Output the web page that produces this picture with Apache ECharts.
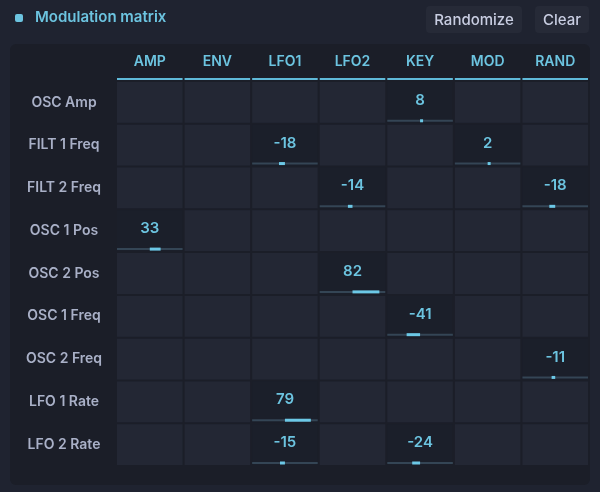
<!DOCTYPE html>
<html>
<head>
<meta charset="utf-8">
<script src="https://cdn.jsdelivr.net/npm/echarts@6/dist/echarts.min.js"></script>
<style>
  html, body { margin: 0; padding: 0; background: #1f2330; }
  #chart { width: 600px; height: 492px; }
</style>
</head>
<body>
<div id="chart"></div>
<script>
var sources = ['AMP', 'ENV', 'LFO1', 'LFO2', 'KEY', 'MOD', 'RAND'];
var targets = ['OSC Amp', 'FILT 1 Freq', 'FILT 2 Freq', 'OSC 1 Pos', 'OSC 2 Pos',
               'OSC 1 Freq', 'OSC 2 Freq', 'LFO 1 Rate', 'LFO 2 Rate'];
// [source index, target index, amount]
var routes = [
    [4, 0, 8],
    [2, 1, -18], [5, 1, 2],
    [3, 2, -14], [6, 2, -18],
    [0, 3, 33],
    [3, 4, 82],
    [4, 5, -41],
    [6, 6, -11],
    [2, 7, 79],
    [2, 8, -15], [4, 8, -24]
];

document.addEventListener('DOMContentLoaded', function () {
    var chart = echarts.init(document.getElementById('chart'));

    // full grid of cells, filled with route amounts where present
    var cells = [];
    targets.forEach(function (t, yi) {
        sources.forEach(function (s, xi) {
            var v = null;
            routes.forEach(function (r) { if (r[0] === xi && r[1] === yi) v = r[2]; });
            cells.push([xi, yi, v]);
        });
    });
    var headers = sources.map(function (s, i) { return [i, 0]; });

    var option = {
        backgroundColor: '#1f2330',
        textStyle: { fontFamily: 'Inter' },
        graphic: [
            { type: 'rect', shape: { x: 10, y: 44, width: 580, height: 441, r: 6 }, style: { fill: '#1b1e28' }, z: -10 },
            { type: 'rect', shape: { x: 15, y: 14, width: 8, height: 8, r: 2 }, style: { fill: '#6cc4e0' } },
            { type: 'text', left: 35, top: 10, style: { text: 'Modulation matrix', fill: '#6cc4e0', font: '600 15px Inter' } },
            { type: 'rect', shape: { x: 426, y: 6, width: 96, height: 27, r: 4 }, style: { fill: '#262a37' } },
            { type: 'text', x: 474, y: 20, style: { text: 'Randomize', fill: '#c9cee2', font: '500 15px Inter', align: 'center', verticalAlign: 'middle' } },
            { type: 'rect', shape: { x: 535, y: 6, width: 54, height: 27, r: 4 }, style: { fill: '#262a37' } },
            { type: 'text', x: 562, y: 20, style: { text: 'Clear', fill: '#c9cee2', font: '500 15px Inter', align: 'center', verticalAlign: 'middle' } }
        ],
        grid: { left: 116, right: 11, top: 81, bottom: 26 },
        xAxis: {
            type: 'category', data: sources, position: 'top',
            axisLine: { show: false }, axisTick: { show: false }, splitLine: { show: false },
            axisLabel: { color: '#6cc4e0', fontWeight: 600, fontSize: 14, margin: 12 }
        },
        yAxis: {
            type: 'category', data: targets, inverse: true,
            axisLine: { show: false }, axisTick: { show: false }, splitLine: { show: false },
            axisLabel: { color: '#a9b0c7', fontWeight: 600, fontSize: 14, margin: 52, align: 'center' }
        },
        series: [
            {
                type: 'custom',
                data: cells,
                renderItem: function (params, api) {
                    var c = api.coord([api.value(0), api.value(1)]);
                    var sz = api.size([1, 1]);
                    var w = sz[0], h = sz[1];
                    var v = api.value(2);
                    var on = !isNaN(v) && v !== null;
                    var x0 = c[0] - w / 2, y0 = c[1] - h / 2;
                    var kids = [{
                        type: 'rect',
                        shape: { x: x0 + 1, y: y0 + 1, width: w - 2, height: h - 2 },
                        style: { fill: on ? '#1b1f2a' : '#232734' }
                    }];
                    if (on) {
                        var half = (w - 2) / 2;
                        var len = v / 100 * half;
                        if (Math.abs(len) < 3) len = len < 0 ? -3 : 3;
                        var by = y0 + h - 4;
                        kids.push({
                            type: 'rect',
                            shape: { x: x0 + 1, y: by, width: w - 2, height: 2 },
                            style: { fill: '#344555' }
                        });
                        kids.push({
                            type: 'rect',
                            shape: { x: Math.min(c[0], c[0] + len), y: by - 0.5, width: Math.abs(len), height: 3 },
                            style: { fill: '#6cc8e6' }
                        });
                        kids.push({
                            type: 'text',
                            x: c[0], y: c[1] - 2,
                            style: { text: String(v), fill: '#6cc4e0', font: '600 15px Inter', align: 'center', verticalAlign: 'middle' }
                        });
                    }
                    return { type: 'group', children: kids };
                }
            },
            {
                type: 'custom',
                data: headers,
                renderItem: function (params, api) {
                    var c = api.coord([api.value(0), 0]);
                    var sz = api.size([1, 1]);
                    return {
                        type: 'rect',
                        shape: { x: c[0] - sz[0] / 2 + 1, y: c[1] - sz[1] / 2 - 3, width: sz[0] - 2, height: 2 },
                        style: { fill: '#5fb9d8' }
                    };
                }
            }
        ]
    };
    chart.setOption(option);
    window.addEventListener('resize', function () { chart.resize(); });
});
</script>
</body>
</html>
